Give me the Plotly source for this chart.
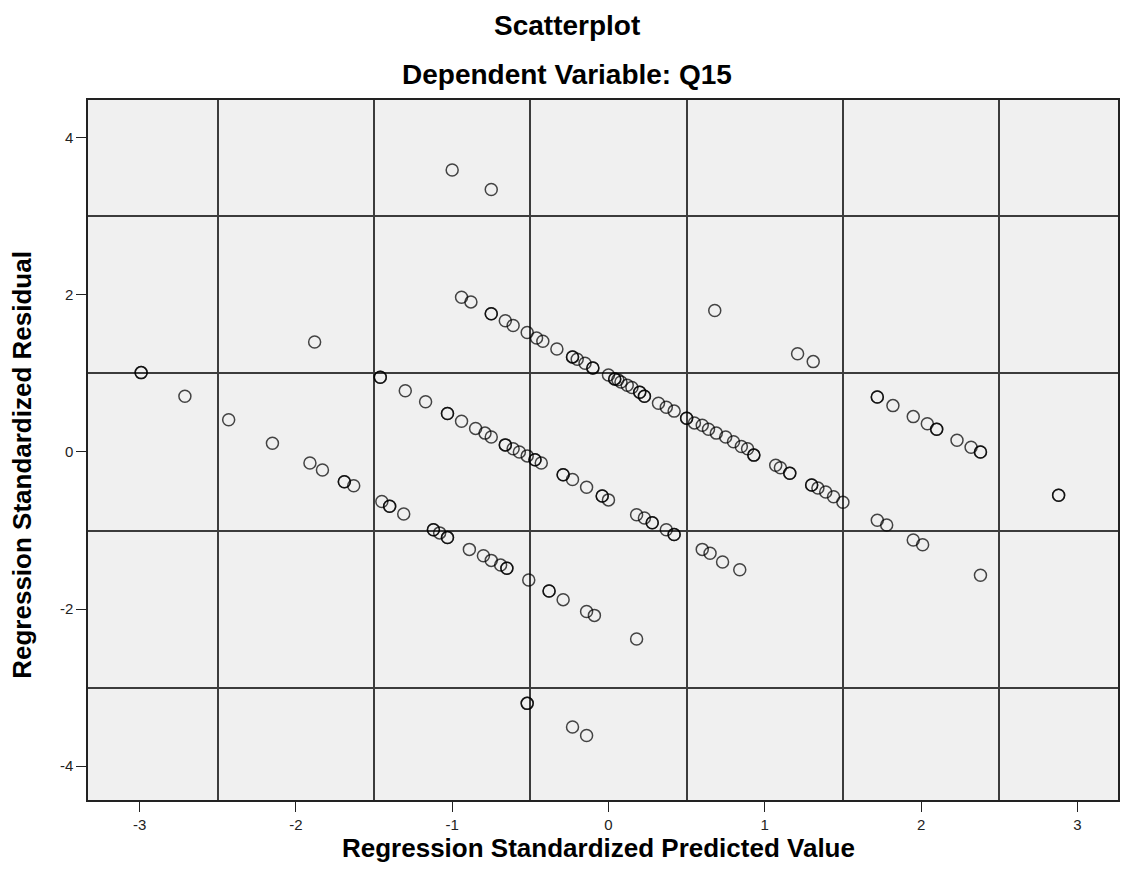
import plotly.graph_objects as go

# Standardized predicted values and residuals, grouped by the diagonal bands
# that the discrete outcome produces.
pred_top = [-1.00, -0.75, 0.68, 1.21, 1.31, 1.72, 1.72, 1.82, 1.95, 2.04, 2.10, 2.10,
            2.23, 2.32, 2.38, 2.38, 2.88, 2.88]
resid_top = [3.59, 3.34, 1.80, 1.25, 1.15, 0.70, 0.70, 0.59, 0.45, 0.36, 0.29, 0.29,
             0.15, 0.06, 0.00, 0.00, -0.55, -0.55]

pred_b1 = [-0.94, -0.88, -0.75, -0.75, -0.66, -0.61, -0.52, -0.46, -0.42, -0.33,
           -0.23, -0.23, -0.20, -0.15, -0.10, -0.10, 0.00, 0.04, 0.04, 0.06, 0.08,
           0.12, 0.15, 0.20, 0.20, 0.23, 0.23, 0.32, 0.37, 0.42, 0.50, 0.50, 0.55,
           0.60, 0.64, 0.69, 0.75, 0.80, 0.85, 0.89, 0.93, 0.93, 1.07, 1.10, 1.16,
           1.16, 1.30, 1.30, 1.34, 1.39, 1.44, 1.50, 1.72, 1.78, 1.95, 2.01, 2.38]
resid_b1 = [1.97, 1.91, 1.76, 1.76, 1.67, 1.61, 1.52, 1.45, 1.41, 1.31,
            1.21, 1.21, 1.18, 1.13, 1.07, 1.07, 0.98, 0.93, 0.93, 0.92, 0.89,
            0.85, 0.82, 0.76, 0.76, 0.71, 0.71, 0.62, 0.57, 0.52, 0.43, 0.43, 0.37,
            0.34, 0.29, 0.24, 0.19, 0.13, 0.07, 0.04, -0.04, -0.04, -0.17, -0.20, -0.27,
            -0.27, -0.42, -0.42, -0.46, -0.51, -0.57, -0.64, -0.87, -0.93, -1.12, -1.18, -1.57]

pred_b2 = [-1.88, -1.46, -1.46, -1.30, -1.17, -1.03, -1.03, -0.94, -0.85, -0.79,
           -0.75, -0.66, -0.66, -0.61, -0.57, -0.52, -0.47, -0.47, -0.43, -0.29,
           -0.29, -0.23, -0.14, -0.04, -0.04, 0.00, 0.18, 0.23, 0.28, 0.28, 0.37,
           0.42, 0.42, 0.60, 0.65, 0.73, 0.84]
resid_b2 = [1.40, 0.95, 0.95, 0.78, 0.64, 0.49, 0.49, 0.39, 0.30, 0.24,
            0.19, 0.09, 0.09, 0.04, 0.00, -0.05, -0.10, -0.10, -0.14, -0.29,
            -0.29, -0.35, -0.45, -0.56, -0.56, -0.61, -0.80, -0.84, -0.90, -0.90, -0.99,
            -1.05, -1.05, -1.24, -1.29, -1.40, -1.50]

pred_b3 = [-2.99, -2.99, -2.71, -2.43, -2.15, -1.91, -1.83, -1.69, -1.69, -1.63,
           -1.45, -1.40, -1.40, -1.31, -1.12, -1.12, -1.08, -1.03, -1.03, -0.89,
           -0.80, -0.75, -0.69, -0.65, -0.65, -0.51, -0.38, -0.38, -0.29, -0.14,
           -0.09, 0.18]
resid_b3 = [1.01, 1.01, 0.71, 0.41, 0.11, -0.14, -0.23, -0.38, -0.38, -0.43,
            -0.63, -0.69, -0.69, -0.79, -0.99, -0.99, -1.03, -1.09, -1.09, -1.24,
            -1.32, -1.38, -1.44, -1.48, -1.48, -1.63, -1.77, -1.77, -1.88, -2.03,
            -2.08, -2.38]

pred_bottom = [-0.52, -0.52, -0.23, -0.14]
resid_bottom = [-3.20, -3.20, -3.50, -3.61]

x_ticks = [-3, -2, -1, 0, 1, 2, 3]
y_ticks = [-4, -2, 0, 2, 4]

pred = pred_top + pred_b1 + pred_b2 + pred_b3 + pred_bottom
resid = resid_top + resid_b1 + resid_b2 + resid_b3 + resid_bottom

FONT = "Liberation Sans, Arial, sans-serif"

fig = go.Figure(go.Scatter(
    x=pred, y=resid, mode="markers",
    marker=dict(symbol="circle-open", size=12, color="rgba(0,0,0,0.72)",
                line=dict(width=1.5)),
    hoverinfo="x+y", showlegend=False,
))

axis_common = dict(
    showgrid=False, zeroline=False,
    showline=True, mirror=True, linecolor="#222", linewidth=1.5,
    ticks="outside", ticklen=10, tickwidth=1.2, tickcolor="#222",
    tickfont=dict(family=FONT, size=15, color="#222"),
)

fig.update_layout(
    width=1134, height=888,
    margin=dict(l=88, r=16, t=100, b=88),
    paper_bgcolor="white", plot_bgcolor="#f0f0f0",
    font=dict(family=FONT, color="black"),
    xaxis=dict(range=[-3.33, 3.26], tickmode="array", tickvals=x_ticks,
               ticktext=[str(v) for v in x_ticks],
               minor=dict(tick0=-2.5, dtick=1, showgrid=True, gridcolor="#3c3c3c",
                          gridwidth=1.5, ticks=""),
               **axis_common),
    yaxis=dict(range=[-4.43, 4.48], tickmode="array", tickvals=y_ticks,
               ticktext=[str(v) for v in y_ticks],
               minor=dict(tick0=1, dtick=2, showgrid=True, gridcolor="#3c3c3c",
                          gridwidth=1.5, ticks=""),
               **axis_common),
    annotations=[
        dict(text="<b>Scatterplot</b>", xref="paper", yref="paper",
             x=0.465, y=1.107, xanchor="center", yanchor="middle",
             showarrow=False, font=dict(family=FONT, size=28)),
        dict(text="<b>Dependent Variable: Q15</b>", xref="paper", yref="paper",
             x=0.465, y=1.036, xanchor="center", yanchor="middle",
             showarrow=False, font=dict(family=FONT, size=28)),
        dict(text="<b>Regression Standardized Predicted Value</b>", xref="paper",
             yref="paper", x=0.496, y=-0.068, xanchor="center", yanchor="middle",
             showarrow=False, font=dict(family=FONT, size=26)),
        dict(text="<b>Regression Standardized Residual</b>", xref="paper",
             yref="paper", x=-0.064, y=0.479, xanchor="center", yanchor="middle",
             textangle=-90, showarrow=False, font=dict(family=FONT, size=26)),
    ],
)

fig.write_html("out.html")
